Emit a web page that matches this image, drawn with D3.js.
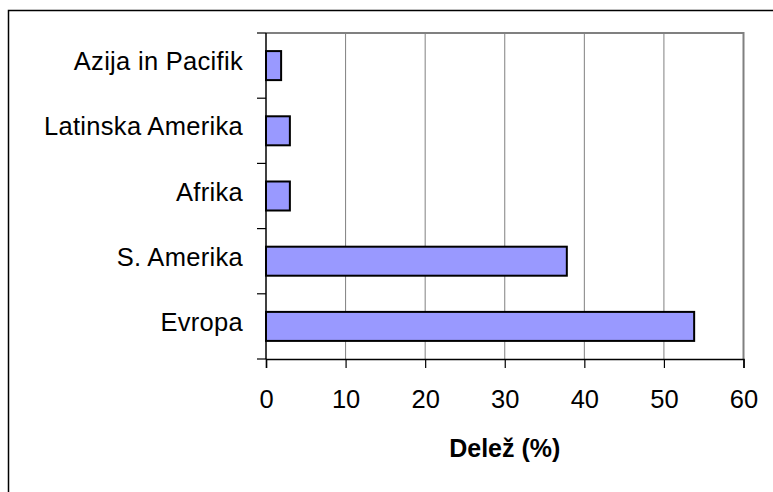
<!DOCTYPE html>
<html>
<head>
<meta charset="utf-8">
<script src="https://cdn.jsdelivr.net/npm/d3@7/dist/d3.min.js"></script>
<style>
  html, body { margin: 0; padding: 0; background: #fff; }
  svg { display: block; font-family: "Liberation Sans", Arial, sans-serif; }
</style>
</head>
<body>
<svg id="chart" width="773" height="492"></svg>
<script>
// Regions, top to bottom
const categories = ["Azija in Pacifik", "Latinska Amerika", "Afrika", "S. Amerika", "Evropa"];
// Share in percent
const shares = [1.9, 3.0, 3.0, 37.8, 53.8];
const xTicks = [0, 10, 20, 30, 40, 50, 60];
const xTitle = "Delež (%)";

const svg = d3.select("#chart");

// outer frame
svg.append("rect")
  .attr("x", 8.5).attr("y", 10.5)
  .attr("width", 780).attr("height", 500)
  .attr("fill", "none").attr("stroke", "#000").attr("stroke-width", 1.5);

const plot = { left: 266, right: 743.5, top: 33, bottom: 359 };

const x = d3.scaleLinear().domain([0, 60]).range([plot.left, plot.right]);
const y = d3.scaleBand().domain(categories)
  .range([plot.top, plot.bottom])
  .paddingInner(0.555).paddingOuter(0.2775);

// vertical gridlines
svg.append("g").selectAll("line")
  .data(xTicks.filter(t => t > 0 && t < 60))
  .join("line")
  .attr("x1", d => x(d)).attr("x2", d => x(d))
  .attr("y1", plot.top).attr("y2", plot.bottom)
  .attr("stroke", "#808080").attr("stroke-width", 1);

// plot area border (top and right)
svg.append("path")
  .attr("d", `M${plot.left},${plot.top}H${plot.right}V${plot.bottom}`)
  .attr("fill", "none").attr("stroke", "#808080").attr("stroke-width", 2);

// bars
svg.append("g").selectAll("rect")
  .data(categories.map((c, i) => ({ c, v: shares[i] })))
  .join("rect")
  .attr("x", x(0))
  .attr("y", d => y(d.c))
  .attr("width", d => x(d.v) - x(0))
  .attr("height", y.bandwidth())
  .attr("fill", "#9999FF")
  .attr("stroke", "#000").attr("stroke-width", 2);

// y axis line and ticks at band boundaries
const boundaries = d3.range(categories.length + 1).map(i => plot.top + i * y.step());
svg.append("line")
  .attr("x1", plot.left).attr("x2", plot.left)
  .attr("y1", plot.top).attr("y2", plot.bottom)
  .attr("stroke", "#000").attr("stroke-width", 1.5);
svg.append("g").selectAll("line")
  .data(boundaries)
  .join("line")
  .attr("x1", plot.left - 9).attr("x2", plot.left)
  .attr("y1", d => d).attr("y2", d => d)
  .attr("stroke", "#000").attr("stroke-width", 1.2);

// category labels
svg.append("g").selectAll("text")
  .data(categories)
  .join("text")
  .attr("x", 243)
  .attr("y", d => y(d) + y.bandwidth() / 2 + 4.5)
  .attr("text-anchor", "end")
  .attr("font-size", 25.5)
  .attr("letter-spacing", 0.3)
  .attr("fill", "#000")
  .text(d => d);

// x axis
const xAxis = svg.append("g")
  .attr("transform", `translate(0,${plot.bottom})`)
  .call(d3.axisBottom(x).tickValues(xTicks).tickSize(9).tickPadding(0).tickFormat(d3.format("d")));
xAxis.select(".domain").attr("stroke", "#000").attr("stroke-width", 1.5);
xAxis.selectAll(".tick line").attr("stroke", "#000").attr("stroke-width", 1.2);
xAxis.selectAll(".tick text")
  .attr("y", 49).attr("dy", null)
  .attr("font-size", 25.5)
  .attr("font-family", "'Liberation Sans', Arial, sans-serif")
  .attr("fill", "#000");

// x axis title
svg.append("text")
  .attr("x", (plot.left + plot.right) / 2)
  .attr("y", 457)
  .attr("text-anchor", "middle")
  .attr("font-size", 25)
  .attr("font-weight", "bold")
  .attr("fill", "#000")
  .text(xTitle);
</script>
</body>
</html>
